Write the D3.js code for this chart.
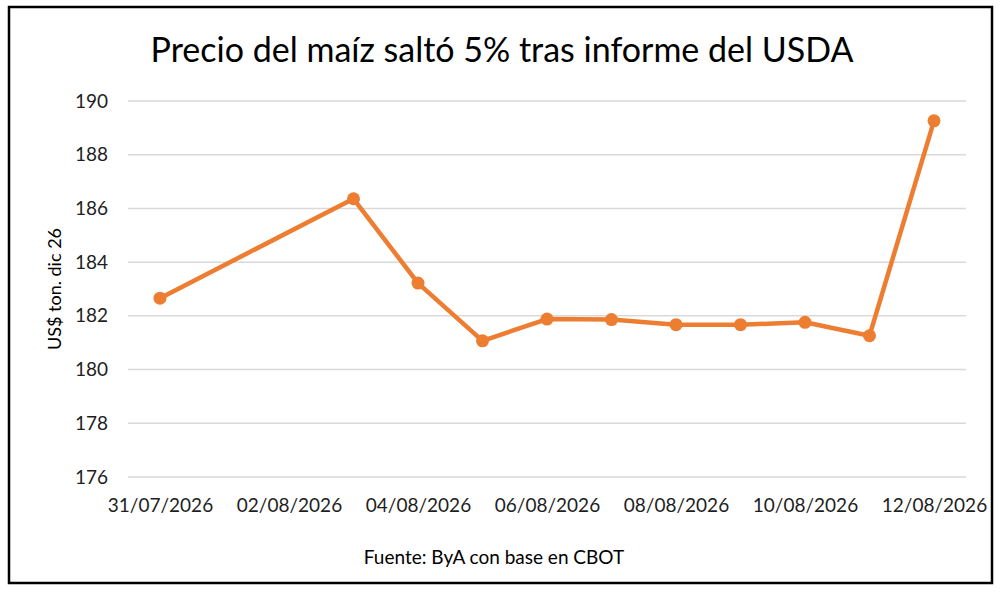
<!DOCTYPE html>
<html>
<head>
<meta charset="utf-8">
<script src="https://cdn.jsdelivr.net/npm/d3@7"></script>
<style>
  html, body { margin: 0; padding: 0; background: #fff; }
  svg { display: block; }
</style>
</head>
<body>
<svg id="chart" width="1000" height="593"></svg>
<script>
// data
const dates = ["2026-07-31", "2026-08-03", "2026-08-04", "2026-08-05", "2026-08-06",
  "2026-08-07", "2026-08-08", "2026-08-09", "2026-08-10", "2026-08-11", "2026-08-12"];
const prices = [182.66, 186.36, 183.22, 181.07, 181.88, 181.86, 181.67, 181.67, 181.76, 181.26, 189.26];
const yTicks = [176, 178, 180, 182, 184, 186, 188, 190];
const xTicks = ["2026-07-31", "2026-08-02", "2026-08-04", "2026-08-06", "2026-08-08", "2026-08-10", "2026-08-12"];

const title = "Precio del maíz saltó 5% tras informe del USDA";
const yTitle = "US$ ton. dic 26";
const source = "Fuente: ByA con base en CBOT";

const font = "Lato, 'Open Sans', sans-serif";
const orange = "#ed7d31";
const txt = "#1e1e1e";

const parse = d3.utcParse("%Y-%m-%d");
const fmt = d3.utcFormat("%d/%m/%Y");
const data = dates.map((d, i) => ({ date: parse(d), value: prices[i] }));

const svg = d3.select("#chart");

// frame
svg.append("rect")
  .attr("x", 9).attr("y", 7)
  .attr("width", 983).attr("height", 576)
  .attr("fill", "#fff")
  .attr("stroke", "#000")
  .attr("stroke-width", 2.5);

const x = d3.scaleUtc()
  .domain([parse(xTicks[0]), parse(xTicks[xTicks.length - 1])])
  .range([160, 934]);

const y = d3.scaleLinear()
  .domain([176, 190])
  .range([477, 101]);

const gridL = 128, gridR = 966;

// grid lines
svg.append("g")
  .selectAll("line")
  .data(yTicks)
  .join("line")
  .attr("x1", gridL).attr("x2", gridR)
  .attr("y1", d => y(d)).attr("y2", d => y(d))
  .attr("stroke", "#d9d9d9")
  .attr("stroke-width", 1.5);

// y axis labels
const yAxis = svg.append("g")
  .attr("transform", `translate(${gridL - 20},0)`)
  .call(d3.axisLeft(y).tickValues(yTicks).tickSize(0).tickPadding(0));
yAxis.select(".domain").remove();
yAxis.selectAll("text")
  .attr("font-family", font)
  .attr("font-size", "19px")
  .attr("fill", txt);

// x axis labels
const xAxis = svg.append("g")
  .attr("transform", `translate(0,${y(176) + 21})`)
  .call(d3.axisBottom(x).tickValues(xTicks.map(parse)).tickFormat(fmt).tickSize(0).tickPadding(0));
xAxis.select(".domain").remove();
xAxis.selectAll("text")
  .attr("font-family", font)
  .attr("font-size", "19px")
  .attr("fill", txt);

// series
const line = d3.line()
  .x(d => x(d.date))
  .y(d => y(d.value));

svg.append("path")
  .datum(data)
  .attr("d", line)
  .attr("fill", "none")
  .attr("stroke", orange)
  .attr("stroke-width", 4.5)
  .attr("stroke-linejoin", "round")
  .attr("stroke-linecap", "round");

svg.append("g")
  .selectAll("circle")
  .data(data)
  .join("circle")
  .attr("cx", d => x(d.date))
  .attr("cy", d => y(d.value))
  .attr("r", 6.5)
  .attr("fill", orange);

// texts
svg.append("text")
  .attr("x", 502).attr("y", 62)
  .attr("text-anchor", "middle")
  .attr("font-family", font)
  .attr("font-size", "34px")
  .attr("fill", "#000")
  .text(title);

svg.append("text")
  .attr("transform", `translate(61,${(y(176) + y(190)) / 2}) rotate(-90)`)
  .attr("text-anchor", "middle")
  .attr("font-family", font)
  .attr("font-size", "18px")
  .attr("fill", "#000")
  .text(yTitle);

svg.append("text")
  .attr("x", 494).attr("y", 564)
  .attr("text-anchor", "middle")
  .attr("font-family", font)
  .attr("font-size", "19px")
  .attr("fill", "#000")
  .text(source);
</script>
</body>
</html>
